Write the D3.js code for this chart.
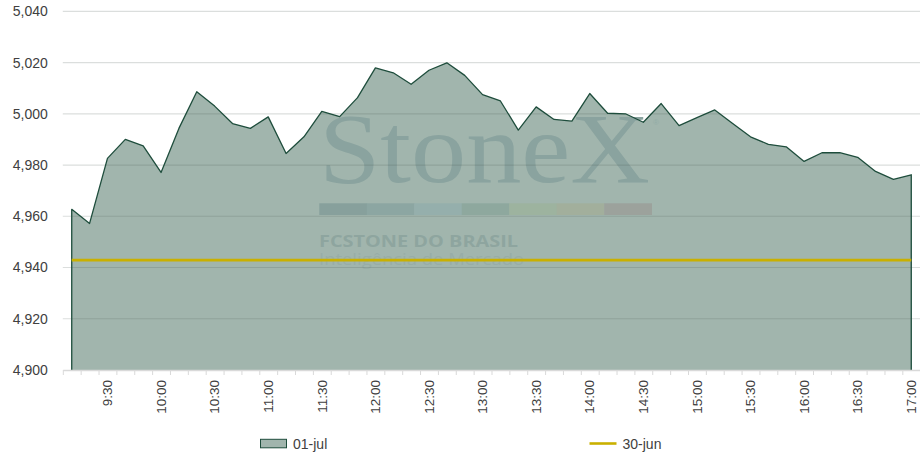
<!DOCTYPE html>
<html>
<head>
<meta charset="utf-8">
<script src="https://cdn.jsdelivr.net/npm/d3@7"></script>
<style>
  body { margin: 0; background: #fff; }
  svg text { font-family: "Liberation Sans", Arial, sans-serif; }
</style>
</head>
<body>
<svg id="canvas"></svg>
<script>
// 10-minute intraday categories
let times = [
  "9:10", "9:20", "9:30", "9:40", "9:50", "10:00",
  "10:10", "10:20", "10:30", "10:40", "10:50", "11:00",
  "11:10", "11:20", "11:30", "11:40", "11:50", "12:00",
  "12:10", "12:20", "12:30", "12:40", "12:50", "13:00",
  "13:10", "13:20", "13:30", "13:40", "13:50", "14:00",
  "14:10", "14:20", "14:30", "14:40", "14:50", "15:00",
  "15:10", "15:20", "15:30", "15:40", "15:50", "16:00",
  "16:10", "16:20", "16:30", "16:40", "16:50", "17:00"
];
let jul01 = [
  4962.7, 4957.2, 4982.6, 4990.0, 4987.5, 4977.1,
  4994.3, 5008.6, 5003.0, 4996.2, 4994.3, 4998.8,
  4984.5, 4991.0, 5000.9, 4998.9, 5006.3, 5017.9,
  5016.0, 5011.5, 5017.0, 5019.9, 5015.0, 5007.5,
  5005.0, 4993.6, 5002.7, 4997.8, 4997.1, 5007.9,
  5000.2, 5000.0, 4996.7, 5004.0, 4995.4, 4998.5,
  5001.5, 4996.2, 4991.0, 4988.1, 4987.1, 4981.4,
  4984.8, 4984.8, 4983.0, 4977.5, 4974.4, 4976.2
];
let jun30 = 4942.9;
let yTicks = [4900, 4920, 4940, 4960, 4980, 5000, 5020, 5040];
let xLabels = ["9:30", "10:00", "10:30", "11:00", "11:30", "12:00", "12:30",
  "13:00", "13:30", "14:00", "14:30", "15:00", "15:30", "16:00", "16:30", "17:00"];
let seriesNames = ["01-jul", "30-jun"];

let width = 920;
let height = 460;
let plotLeft = 62.8;
let plotRight = 920.2;
let plotTop = 11.3;
let plotBottom = 370;

let areaColor = "#a1b5ad";
let edgeColor = "#1e4d3c";
let refColor = "#c9b000";

let canvas = d3.select("#canvas").attr("width", width).attr("height", height);

let xScale = d3.scaleBand().domain(times).range([plotLeft, plotRight]);
let cx = (t) => xScale(t) + xScale.bandwidth() / 2;
let yScale = d3.scaleLinear().domain([4900, 5040]).range([plotBottom, plotTop]);

let values = times.map((t, i) => ({ time: t, value: jul01[i] }));

// area fill
canvas.append("path")
  .datum(values)
  .attr("fill", areaColor)
  .attr("d", d3.area()
    .x((d) => cx(d.time))
    .y0(yScale(4900))
    .y1((d) => yScale(d.value)));

// watermark
let wm = canvas.append("g");
wm.append("text")
  .attr("x", 319)
  .attr("y", 181.5)
  .attr("textLength", 331)
  .attr("lengthAdjust", "spacingAndGlyphs")
  .style("font-family", "'Liberation Serif', 'DejaVu Serif', serif")
  .style("font-size", "100px")
  .attr("fill", "#8aa39f")
  .text("StoneX");
wm.append("text")
  .attr("x", 653)
  .attr("y", 125)
  .style("font-size", "8px")
  .attr("fill", "#93aca7")
  .text("®");
let barColors = ["#87a09c", "#8ca6a2", "#95afac", "#8ea89e", "#9db39f", "#a2af9c", "#9ca29c"];
let barScale = d3.scaleBand().domain(d3.range(barColors.length)).range([319.3, 651.7]);
wm.selectAll("rect.wmbar")
  .data(barColors)
  .enter()
  .append("rect")
  .attr("class", "wmbar")
  .attr("x", (d, i) => barScale(i))
  .attr("y", 203.3)
  .attr("width", barScale.bandwidth() + 0.3)
  .attr("height", 11.7)
  .attr("fill", (d) => d);
wm.append("text")
  .attr("x", 319)
  .attr("y", 246.8)
  .attr("textLength", 199)
  .attr("lengthAdjust", "spacingAndGlyphs")
  .style("font-family", "'Open Sans', sans-serif")
  .style("font-weight", "bold")
  .style("font-size", "16.5px")
  .attr("fill", "#8ea59f")
  .text("FCSTONE DO BRASIL");
wm.append("text")
  .attr("x", 319)
  .attr("y", 265)
  .attr("textLength", 205)
  .attr("lengthAdjust", "spacingAndGlyphs")
  .style("font-family", "'Open Sans', sans-serif")
  .style("font-size", "17px")
  .attr("fill", "#98ada7")
  .text("Inteligência de Mercado");

// gridlines (translucent, visible through area)
canvas.append("g")
  .selectAll("line")
  .data(yTicks.slice(1))
  .enter()
  .append("line")
  .attr("x1", plotLeft)
  .attr("x2", plotRight)
  .attr("y1", (d) => yScale(d))
  .attr("y2", (d) => yScale(d))
  .attr("stroke", "#4a5a55")
  .attr("stroke-opacity", 0.2)
  .attr("stroke-width", 1.2);

// area outline (top and sides)
let outline = [{ time: times[0], value: 4900 }]
  .concat(values)
  .concat([{ time: times[times.length - 1], value: 4900 }]);
canvas.append("path")
  .datum(outline)
  .attr("fill", "none")
  .attr("stroke", edgeColor)
  .attr("stroke-width", 1.3)
  .attr("stroke-linejoin", "round")
  .attr("d", d3.line()
    .x((d) => cx(d.time))
    .y((d) => yScale(d.value)));

// 30-jun reference line
canvas.append("path")
  .datum(times)
  .attr("fill", "none")
  .attr("stroke", refColor)
  .attr("stroke-width", 2.6)
  .attr("d", d3.line()
    .x((d) => cx(d))
    .y(() => yScale(jun30)));

// x axis: baseline + tick marks between categories
let tickScale = d3.scaleLinear().domain([0, times.length]).range([plotLeft, plotRight]);
let xTicks = canvas.append("g")
  .attr("transform", "translate(0," + plotBottom + ")")
  .call(d3.axisBottom(tickScale)
    .tickValues(d3.range(0, times.length + 1))
    .tickFormat("")
    .tickSize(5)
    .tickSizeOuter(0));
xTicks.select(".domain").attr("stroke", "#d9d9d9").attr("stroke-width", 1.3);
xTicks.selectAll(".tick line").attr("stroke", "#d9d9d9");

// x labels
let xAxis = canvas.append("g")
  .attr("transform", "translate(0," + plotBottom + ")")
  .call(d3.axisBottom(xScale).tickValues(xLabels).tickSize(0).tickPadding(0));
xAxis.select(".domain").remove();
xAxis.selectAll("text")
  .attr("transform", "rotate(-90)")
  .attr("x", -10)
  .attr("y", 0)
  .attr("dy", "0.35em")
  .attr("text-anchor", "end")
  .attr("fill", "#404040")
  .style("font-size", "13.5px")
  .style("font-family", "'Liberation Sans', Arial, sans-serif");

// y labels
let yAxis = canvas.append("g")
  .attr("transform", "translate(" + plotLeft + ",0)")
  .call(d3.axisLeft(yScale).tickValues(yTicks).tickFormat(d3.format(",")).tickSize(0).tickPadding(15));
yAxis.select(".domain").remove();
yAxis.selectAll("text")
  .attr("fill", "#404040")
  .style("font-size", "14px")
  .style("font-family", "'Liberation Sans', Arial, sans-serif");

// legend
let legend = canvas.append("g");
legend.append("rect")
  .attr("x", 260.5)
  .attr("y", 439.3)
  .attr("width", 26)
  .attr("height", 8.5)
  .attr("fill", areaColor)
  .attr("stroke", edgeColor)
  .attr("stroke-width", 1);
legend.append("text")
  .attr("x", 293)
  .attr("y", 448.5)
  .attr("fill", "#404040")
  .style("font-size", "14px")
  .text(seriesNames[0]);
legend.append("line")
  .attr("x1", 589.5)
  .attr("x2", 616.5)
  .attr("y1", 443.5)
  .attr("y2", 443.5)
  .attr("stroke", refColor)
  .attr("stroke-width", 2.6);
legend.append("text")
  .attr("x", 622.5)
  .attr("y", 448.5)
  .attr("fill", "#404040")
  .style("font-size", "14px")
  .text(seriesNames[1]);
</script>
</body>
</html>
